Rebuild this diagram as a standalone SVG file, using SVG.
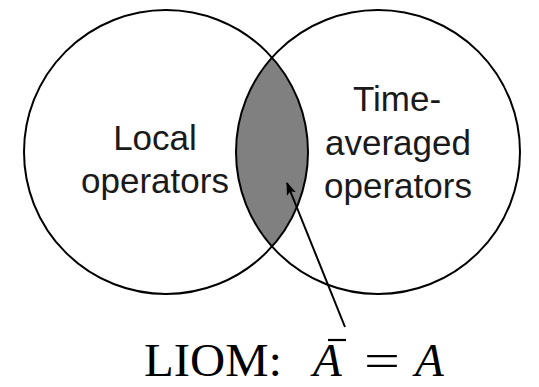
<svg xmlns="http://www.w3.org/2000/svg" width="539" height="387" viewBox="0 0 539 387">
<style>
.c{fill:none;stroke:#000;stroke-width:2}
.lbl{font-family:"Liberation Sans",Arial,sans-serif;font-size:35px;fill:#1a1a1a;text-anchor:middle}
.ser{font-family:"Liberation Serif","Times New Roman",serif;font-size:47px;fill:#000}
</style>
<defs>
<marker id="ah" markerWidth="13" markerHeight="10" refX="12" refY="5" orient="auto" markerUnits="userSpaceOnUse">
<path d="M0,0 L13,5 L0,10 L3,5 Z" fill="#000"/>
</marker>
</defs>
<rect width="539" height="387" fill="#fff"/>
<g id="lens">
<path d="M272,57.5 A142,142 0 0 1 272,246.5 A142,142 0 0 1 272,57.5 Z" fill="#808080"/>
</g>
<g id="local">
<circle class="c" cx="166" cy="152" r="142"/>
<text class="lbl" x="155" y="150">Local</text>
<text class="lbl" x="155" y="193">operators</text>
</g>
<g id="timeavg">
<circle class="c" cx="378" cy="152" r="142"/>
<text class="lbl" x="397" y="111">Time-</text>
<text class="lbl" x="398" y="155">averaged</text>
<text class="lbl" x="398" y="198">operators</text>
</g>
<g id="connectors">
<line x1="345" y1="327" x2="287" y2="183" stroke="#000" stroke-width="2" marker-end="url(#ah)"/>
</g>
<g id="liom">
<text class="ser" x="144" y="376" textLength="138" lengthAdjust="spacingAndGlyphs">LIOM:</text>
<text class="ser" x="313" y="376" font-style="italic">A</text>
<line x1="328" y1="340" x2="346" y2="340" stroke="#000" stroke-width="2.2"/>
<text class="ser" x="364" y="376" textLength="36" lengthAdjust="spacingAndGlyphs">=</text>
<text class="ser" x="415" y="376" font-style="italic">A</text>
</g>
</svg>
